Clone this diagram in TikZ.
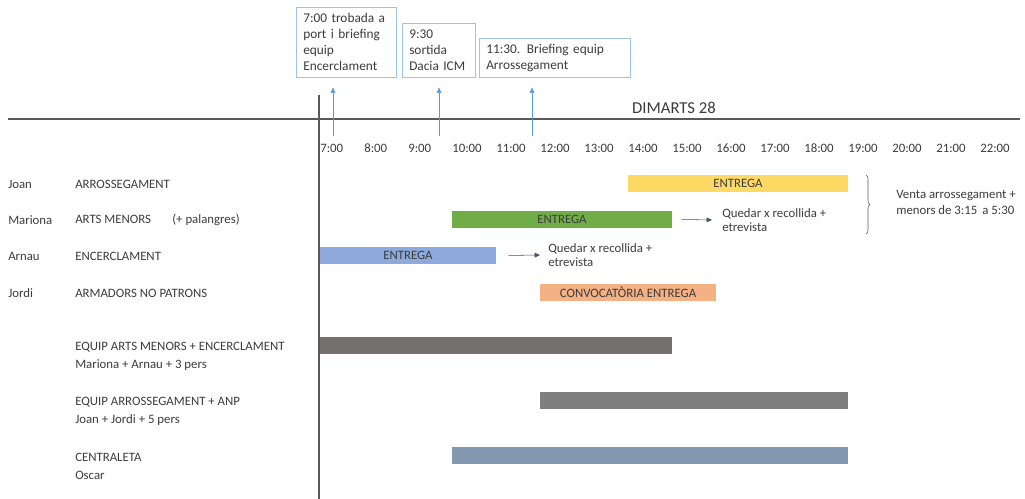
\documentclass[tikz,border=0pt]{standalone}
\usepackage{fontspec}
\setmainfont{Carlito}
\usetikzlibrary{arrows.meta,decorations.pathreplacing}
\definecolor{ink}{HTML}{3C3C3C}
\definecolor{axis}{HTML}{595959}
\definecolor{noteblue}{HTML}{9DC3E6}
\definecolor{tipblue}{HTML}{5B9BD5}
\definecolor{slate}{HTML}{44546A}
\definecolor{cyellow}{HTML}{FFD966}
\definecolor{cgreen}{HTML}{70AD47}
\definecolor{cblue}{HTML}{8EA9DB}
\definecolor{corange}{HTML}{F4B183}
\definecolor{cgray}{HTML}{767171}
\definecolor{cgrey}{HTML}{7F7F7F}
\definecolor{cslate}{HTML}{8497B0}

\begin{document}
\begin{tikzpicture}[x=0.75pt,y=-0.75pt,font=\fontsize{9.6}{12}\selectfont,
    text=ink,>={Triangle[length=4pt,width=3.5pt]},
    bar/.style={minimum height=12.75pt,inner sep=0pt},
    note/.style={draw=noteblue,align=left,inner xsep=5.25pt,
      anchor=north west,font=\fontsize{10}{12}\selectfont},
    lbl/.style={anchor=west,inner sep=0pt}]
  \useasboundingbox (0,0) rectangle (1025,499);

  % time axis
  \draw[axis,line width=0.8pt] (8,119) -- (1020,119);
  \draw[axis,line width=0.8pt] (319,95) -- (319,499);
  \node[font=\fontsize{12.5}{14}\selectfont] (day) at (674,108) {DIMARTS 28};
  \foreach \h [count=\i from 0] in {7,...,22}
    \node[lbl] (h\h) at (320+44*\i,148) {\h:00};

  % notes above the axis
  \node[note,text width=64.5pt,minimum height=52.5pt] (n1) at (296,7)
    {7:00 trobada a\\port i briefing\\equip\\Encerclament};
  \node[note,text width=44.25pt,minimum height=40.5pt] (n2) at (402,23)
    {9:30\\sortida\\Dacia ICM};
  \node[note,text width=102.75pt,minimum height=29.25pt] (n3) at (479,38)
    {11:30. Briefing equip\\Arrossegament};
  \foreach \x/\n in {333/1,439/2,532/3}{
    \coordinate (t\n) at (\x,136);
    \draw[->,tipblue,shorten >=7.5pt] (t\n) -- (t\n |- n\n.south);
  }

  % people and activities
  \foreach \y/\who/\what in {184/Joan/ARROSSEGAMENT,
      220/Mariona/ARTS MENORS\hspace{16pt}(+ palangres),
      256/Arnau/ENCERCLAMENT,293/Jordi/ARMADORS NO PATRONS}{
    \node[lbl] (p\who) at (8,\y) {\who};
    \node[lbl] (a\who) at (75,\y) {\what};
  }

  % teams
  \foreach \y/\team/\crew [count=\k] in {347/EQUIP ARTS MENORS + ENCERCLAMENT/Mariona + Arnau + 3 pers,
      402/EQUIP ARROSSEGAMENT + ANP/Joan + Jordi + 5 pers,
      457/CENTRALETA/Oscar}{
    \node[lbl] (team\k) at (75,\y) {\team};
    \node[lbl] (crew\k) at (75,\y+18.5) {\crew};
  }

  % bars: start hour / end hour / row / colour / name / text
  \foreach \s/\e/\y/\c/\n/\t in {14/19/183.5/cyellow/bJoan/ENTREGA,
      10/15/219.5/cgreen/bMariona/ENTREGA,
      7/11/255.5/cblue/bArnau/ENTREGA,
      12/16/292.5/corange/bJordi/CONVOCATÒRIA ENTREGA,
      7/15/345.5/cgray/bTeam1/,
      12/19/400.5/cgrey/bTeam2/,
      10/19/455.5/cslate/bTeam3/}
    \node[bar,fill=\c,minimum width={33*(\e-\s)}] (\n)
      at ({320+22*(\s+\e-14)},\y) {\t};

  % follow-up notes
  \node[lbl,align=left,font=\fontsize{9.6}{10.5}\selectfont] (q1) at (722,220)
    {Quedar x recollida +\\etrevista};
  \node[lbl,align=left,font=\fontsize{9.6}{11}\selectfont] (q2) at (548,255)
    {Quedar x recollida +\\etrevista};
  \draw[->,slate,shorten <=6.75pt,shorten >=7.5pt] (bMariona.east) -- (q1.west);
  \draw[->,slate,shorten <=9pt,shorten >=6pt] (bArnau.east) -- (q2.west);

  % sale
  \draw[axis,decorate,decoration={brace,amplitude=3pt}] (866,175) -- (866,234);
  \node[lbl,align=left,font=\fontsize{9.6}{12}\selectfont] (venta) at (896,202)
    {Venta arrossegament +\\menors de 3:15\, a 5:30};
\end{tikzpicture}
\end{document}
